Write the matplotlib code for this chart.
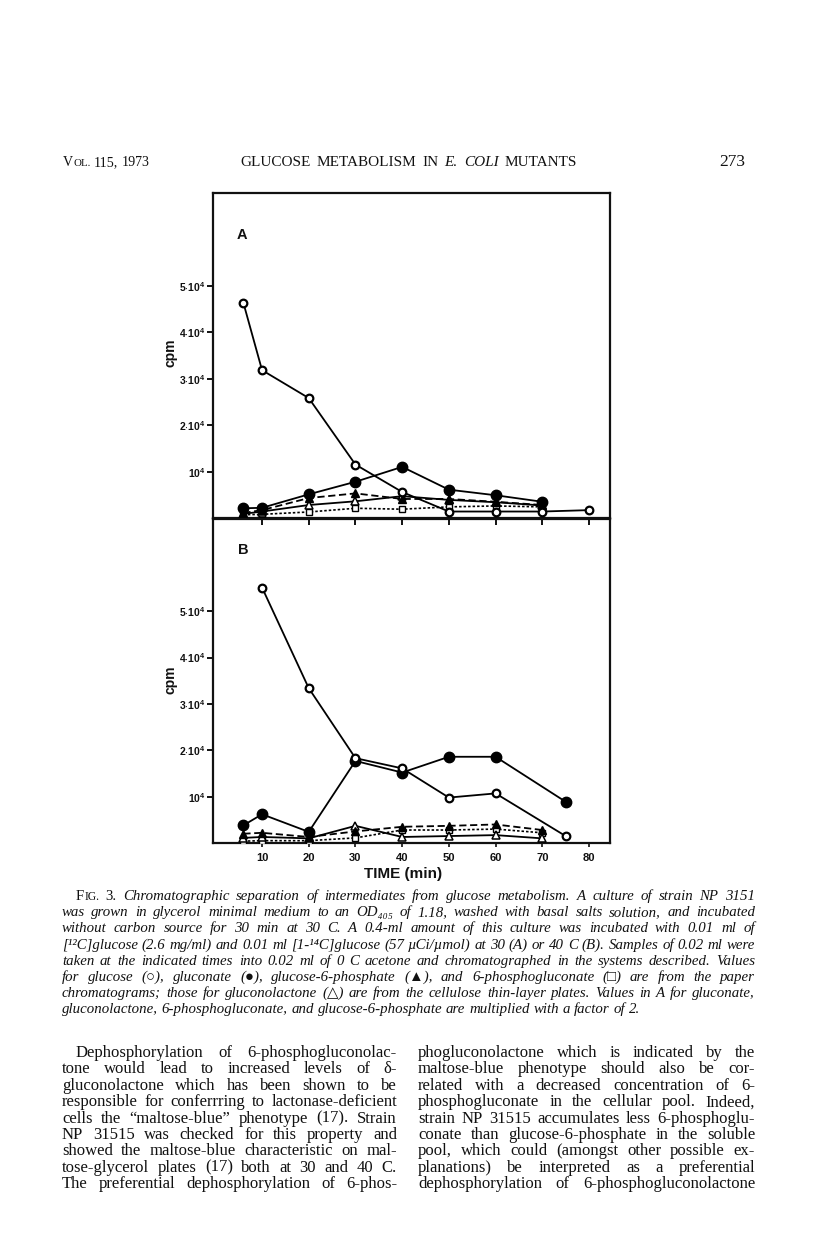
import matplotlib
matplotlib.use("Agg")
import matplotlib.pyplot as plt

# ---------------------------------------------------------------------------
# DATA  (cpm in units of 10^4)
# ---------------------------------------------------------------------------
t_A = [6, 10, 20, 30, 40, 50, 60, 70]
t_A_glucose = [6, 10, 20, 30, 40, 50, 60, 70, 80]
glucose_A = [4.64, 3.19, 2.59, 1.16, 0.57, 0.15, 0.15, 0.15, 0.18]
gluconate_A = [0.22, 0.23, 0.52, 0.79, 1.11, 0.62, 0.50, 0.36]
g6p_A = [0.12, 0.18, 0.44, 0.54, 0.42, 0.42, 0.36, 0.29]
lactone_A = [0.10, 0.15, 0.29, 0.37, 0.48, 0.40, 0.35, 0.28]
pgluconate_A = [0.08, 0.09, 0.14, 0.22, 0.20, 0.25, 0.27, 0.25]

t_B = [6, 10, 20, 30, 40, 50, 60, 70]
t_B_glucose = [10, 20, 30, 40, 50, 60, 75]
glucose_B = [5.51, 3.34, 1.83, 1.61, 0.98, 1.07, 0.15]
t_B_gluconate = [6, 10, 20, 30, 40, 50, 60, 75]
gluconate_B = [0.38, 0.62, 0.24, 1.77, 1.52, 1.86, 1.86, 0.89]
g6p_B = [0.20, 0.22, 0.13, 0.25, 0.35, 0.37, 0.40, 0.28]
lactone_B = [0.11, 0.13, 0.10, 0.37, 0.13, 0.15, 0.17, 0.10]
pgluconate_B = [0.04, 0.05, 0.05, 0.11, 0.28, 0.28, 0.30, 0.22]

x_ticks = [10, 20, 30, 40, 50, 60, 70, 80]
y_ticks = [1, 2, 3, 4, 5]
y_ticklabels = [r"$\mathbf{10^4}$", r"$\mathbf{2{\cdot}10^4}$", r"$\mathbf{3{\cdot}10^4}$",
                r"$\mathbf{4{\cdot}10^4}$", r"$\mathbf{5{\cdot}10^4}$"]

HEADER_PAGE = "273"

CAPTION = [
    "Chromatographic separation of intermediates from glucose metabolism. A culture of strain NP 3151",
    "was grown in glycerol minimal medium to an OD\u2084\u2080\u2085 of 1.18, washed with basal salts solution, and incubated",
    "without carbon source for 30 min at 30 C. A 0.4-ml amount of this culture was incubated with 0.01 ml of",
    "[\u00b9\u00b2C]glucose (2.6 mg/ml) and 0.01 ml [1-\u00b9\u2074C]glucose (57 \u00b5Ci/\u00b5mol) at 30 (A) or 40 C (B). Samples of 0.02 ml were",
    "taken at the indicated times into 0.02 ml of 0 C acetone and chromatographed in the systems described. Values",
    "for glucose (\u25cb), gluconate (\u25cf), glucose-6-phosphate (\u25b2), and 6-phosphogluconate (\u25a1) are from the paper",
    "chromatograms; those for gluconolactone (\u25b3) are from the cellulose thin-layer plates. Values in A for gluconate,",
    "gluconolactone, 6-phosphogluconate, and glucose-6-phosphate are multiplied with a factor of 2.",
]

BODY_LEFT = [
    "Dephosphorylation of 6-phosphogluconolac-",
    "tone would lead to increased levels of \u03b4-",
    "gluconolactone which has been shown to be",
    "responsible for conferrring to lactonase-deficient",
    "cells the \u201cmaltose-blue\u201d phenotype (17). Strain",
    "NP 31515 was checked for this property and",
    "showed the maltose-blue characteristic on mal-",
    "tose-glycerol plates (17) both at 30 and 40 C.",
    "The preferential dephosphorylation of 6-phos-",
]
BODY_RIGHT = [
    "phogluconolactone which is indicated by the",
    "maltose-blue phenotype should also be cor-",
    "related with a decreased concentration of 6-",
    "phosphogluconate in the cellular pool. Indeed,",
    "strain NP 31515 accumulates less 6-phosphoglu-",
    "conate than glucose-6-phosphate in the soluble",
    "pool, which could (amongst other possible ex-",
    "planations) be interpreted as a preferential",
    "dephosphorylation of 6-phosphogluconolactone",
]

# ---------------------------------------------------------------------------
# PAGE SETUP
# ---------------------------------------------------------------------------
W, H = 816, 1256
INK = "#111111"
SERIF = ["Liberation Serif", "DejaVu Serif"]
SANS = ["Liberation Sans", "DejaVu Sans"]

plt.rcParams["mathtext.fontset"] = "custom"
plt.rcParams["mathtext.bf"] = "Liberation Sans:bold"
plt.rcParams["mathtext.rm"] = "Liberation Sans"

fig = plt.figure(figsize=(W / 100, H / 100), dpi=100)
fig.patch.set_facecolor("white")
renderer = fig.canvas.get_renderer()


def fx(px):
    return px / W


def fy(py):
    return 1 - py / H


def make_text(txt, size, o):
    return fig.text(0, 0, txt, va="baseline", ha="left", color=INK,
                    fontsize=size * o.get("rel", 1.0),
                    fontstyle=o.get("style", "normal"),
                    fontweight=o.get("weight", "normal"),
                    family=o.get("family", SERIF))


def measure(words, size):
    total = 0
    for runs in words:
        for txt, o in runs:
            t = make_text(txt, size, o)
            total += t.get_window_extent(renderer).width
            t.remove()
    return total


def set_line(words, x0, x1, base, size, justify=True):
    placed, widths = [], []
    for runs in words:
        objs = []
        for txt, o in runs:
            t = make_text(txt, size, o)
            objs.append((t, t.get_window_extent(renderer).width))
        placed.append(objs)
        widths.append(sum(w for _, w in objs))
    if justify and len(words) > 1:
        gap = (x1 - x0 - sum(widths)) / (len(words) - 1)
    else:
        gap = 0.25 * size * 100 / 72
    x = x0
    for objs in placed:
        for t, w in objs:
            t.set_position((fx(x), fy(base)))
            x += w
        x += gap
    return x - gap


def split(line, **o):
    return [[(w, o)] for w in line.split(" ")]


def set_block(lines, x0, x1, base0, dy, fs_max, indent=0, ragged_last=False):
    # font size at which the tightest justified line just fits
    size = fs_max
    for i, words in enumerate(lines):
        if ragged_last and i == len(lines) - 1:
            continue
        avail = x1 - x0 - (indent if i == 0 else 0)
        nat = measure(words, 10) + (len(words) - 1) * 0.25 * 10 * 100 / 72
        size = min(size, 10 * avail / nat * 0.995)
    for i, words in enumerate(lines):
        last = ragged_last and i == len(lines) - 1
        set_line(words, x0 + (indent if i == 0 else 0), x1, base0 + i * dy,
                 size, justify=not last)


# ---------------------------------------------------------------------------
# RUNNING HEAD
# ---------------------------------------------------------------------------
head_left = [[("V", {}), ("OL.", {"rel": 0.78})], [("115,", {})], [("1973", {})]]
set_block([head_left], 63, 150, 166, 0, 10.8)
title_words = [[("GLUCOSE", {})], [("METABOLISM", {})], [("IN", {})],
               [("E.", {"style": "italic"})], [("COLI", {"style": "italic"})],
               [("MUTANTS", {})]]
set_block([title_words], 240, 577, 166, 0, 11)
fig.text(fx(745), fy(166), HEADER_PAGE, ha="right", va="baseline",
         fontsize=12.5, family=SERIF, color=INK)

# ---------------------------------------------------------------------------
# CHART
# ---------------------------------------------------------------------------
L, R = 213, 610
TOP_A, MID, BOT_B = 193, 518.5, 843

axA = fig.add_axes([fx(L), fy(MID), (R - L) / W, (MID - TOP_A) / H])
axB = fig.add_axes([fx(L), fy(BOT_B), (R - L) / W, (BOT_B - MID) / H])

st_glucose = dict(color="k", lw=1.3, ls="-", marker="o", ms=5.5, mfc="white", mec="k", mew=1.6, zorder=5)
st_gluconate = dict(color="k", lw=1.3, ls="-", marker="o", ms=7.5, mfc="k", mec="k", zorder=4)
st_g6p = dict(color="k", lw=1.3, ls=(0, (4, 2)), marker="^", ms=5.5, mfc="k", mec="k", zorder=3)
st_lactone = dict(color="k", lw=1.3, ls="-", marker="^", ms=5.5, mfc="white", mec="k", mew=1.1, zorder=3)
st_pg = dict(color="k", lw=1.2, ls=(0, (1.5, 1.2)), marker="s", ms=4.5, mfc="white", mec="k", mew=1.0, zorder=3)

axA.plot(t_A, pgluconate_A, **st_pg)
axA.plot(t_A, lactone_A, **st_lactone)
axA.plot(t_A, g6p_A, **st_g6p)
axA.plot(t_A, gluconate_A, **st_gluconate)
axA.plot(t_A_glucose, glucose_A, **st_glucose)

axB.plot(t_B, pgluconate_B, **st_pg)
axB.plot(t_B, lactone_B, **st_lactone)
axB.plot(t_B, g6p_B, **st_g6p)
axB.plot(t_B_gluconate, gluconate_B, **st_gluconate)
axB.plot(t_B_glucose, glucose_B, **st_glucose)

for ax in (axA, axB):
    ax.set_xlim(-0.5, 84.5)
    ax.set_ylim(0, 7.0)
    ax.set_facecolor("none")
    for s in ax.spines.values():
        s.set_linewidth(1.6)
        s.set_color(INK)
    ax.set_yticks(y_ticks)
    ax.set_yticklabels(y_ticklabels, fontsize=7.5)
    ax.tick_params(axis="y", direction="out", length=4.5, width=1.4, pad=1, colors=INK)
    ax.set_xticks(x_ticks)

axA.tick_params(axis="x", direction="out", length=5, width=1.4, labelbottom=False, colors=INK)
axB.tick_params(axis="x", direction="out", length=3, width=1.2, pad=4, colors=INK)
axB.set_xticklabels([str(v) for v in x_ticks], fontsize=8, fontweight="bold", family=SANS)

fig.text(fx(242), fy(235), "A", ha="center", va="center", fontsize=10.5,
         fontweight="bold", family=SANS, color=INK)
fig.text(fx(243), fy(550), "B", ha="center", va="center", fontsize=10.5,
         fontweight="bold", family=SANS, color=INK)
for yc in (353, 680):
    fig.text(fx(171), fy(yc), "cpm", ha="center", va="center", rotation=90,
             fontsize=10, fontweight="bold", family=SANS, color=INK)
fig.text(fx(403), fy(874), "TIME (min)", ha="center", va="center",
         fontsize=11, fontweight="bold", family=SANS, color=INK)

# ---------------------------------------------------------------------------
# CAPTION
# ---------------------------------------------------------------------------
cap_lines = []
for i, line in enumerate(CAPTION):
    words = split(line, style="italic")
    if i == 0:
        words = [[("F", {}), ("IG.", {"rel": 0.78})], [("3.", {})]] + words
    cap_lines.append(words)
set_block(cap_lines, 62, 755, 900, 16.2, 11.5, indent=14, ragged_last=True)

# ---------------------------------------------------------------------------
# BODY TEXT (two columns)
# ---------------------------------------------------------------------------
set_block([split(l) for l in BODY_LEFT], 62, 397, 1057, 16.4, 12, indent=14)
set_block([split(l) for l in BODY_RIGHT], 418, 755, 1057, 16.4, 12)

fig.savefig("out.png", dpi=100, facecolor="white")
